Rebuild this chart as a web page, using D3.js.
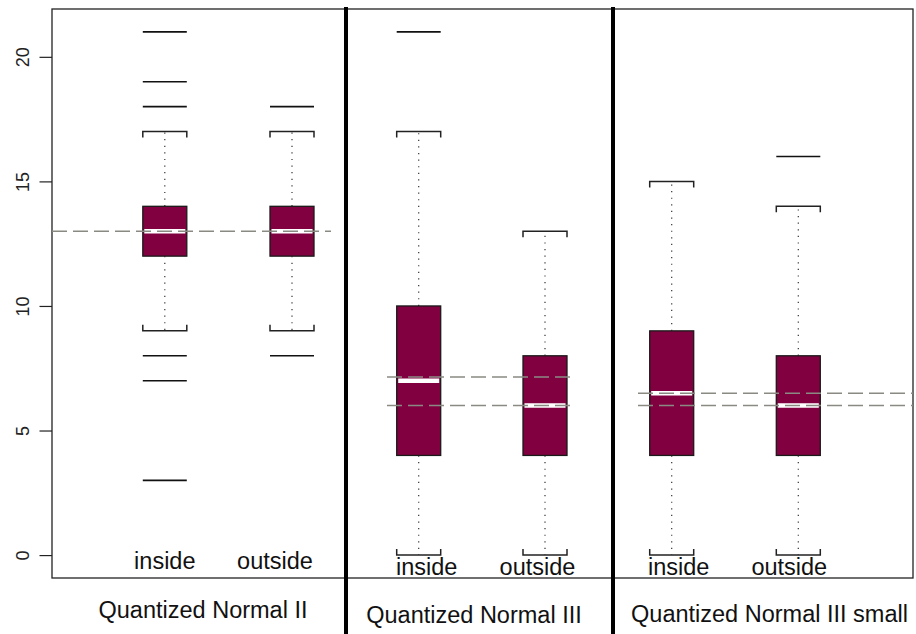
<!DOCTYPE html>
<html>
<head>
<meta charset="utf-8">
<script src="https://cdn.jsdelivr.net/npm/d3@7"></script>
<style>
  body { margin: 0; background: #fff; }
  svg { display: block; font-family: "Liberation Sans", Arial, sans-serif; }
</style>
</head>
<body>
<svg width="916" height="634"></svg>
<script>
// data
var panels = ["Quantized Normal II", "Quantized Normal III", "Quantized Normal III small"];
var groups = ["inside", "outside"];
var medians    = [[13, 13], [7, 6], [6.5, 6]];
var q1         = [[12, 12], [4, 4], [4, 4]];
var q3         = [[14, 14], [10, 8], [9, 8]];
var whiskerLo  = [[9, 9], [0, 0], [0, 0]];
var whiskerHi  = [[17, 17], [17, 13], [15, 14]];
var outliers   = [[[3, 7, 8, 18, 19, 21], [8, 18]], [[21], []], [[], [16]]];
var refLines   = [[13], [7.15, 6], [6.5, 6]];
var yTicks     = [0, 5, 10, 15, 20];

// layout (the reference is three plots stitched side by side)
var frame = {left: 52, right: 913, top: 9, bottom: 578};
var layout = [
  {x0: 52,  x1: 346, boxes: [164.8, 292],   labelDx: [0, -17],  labelY: 568.5, titleX: 203,   titleY: 617.5, ref: [52, 331]},
  {x0: 346, x1: 613, boxes: [418.7, 545],   labelDx: [8, -7.5], labelY: 574.5, titleX: 474,   titleY: 622.5, ref: [387, 576]},
  {x0: 613, x1: 913, boxes: [671.7, 798.3], labelDx: [7, -9],   labelY: 575,   titleX: 769.5, titleY: 621.5, ref: [638, 913]}
];
var halfW = 22, capTick = 6;
var boxFill = "#800040";

var svg = d3.select("svg");

var y = d3.scaleLinear().domain([-0.92, 21.92]).range([frame.bottom, frame.top]);

// frame
svg.append("rect")
    .attr("x", frame.left).attr("y", frame.top)
    .attr("width", frame.right - frame.left).attr("height", frame.bottom - frame.top)
    .attr("fill", "none").attr("stroke", "#222").attr("stroke-width", 1.3);

// y axis
var yAxis = svg.append("g")
    .attr("transform", "translate(" + frame.left + ",0)")
    .call(d3.axisLeft(y).tickValues(yTicks).tickSize(12.5).tickPadding(0));
yAxis.select(".domain").remove();
yAxis.selectAll(".tick line").attr("stroke", "#222").attr("stroke-width", 1.2);
yAxis.selectAll(".tick text")
    .attr("x", null).attr("dy", null)
    .attr("transform", "translate(-23,0) rotate(-90)")
    .attr("text-anchor", "middle")
    .attr("fill", "#222")
    .style("font-size", "18px");

panels.forEach(function(name, p) {
  var L = layout[p];
  var x = d3.scalePoint().domain(groups).range(L.boxes);
  var g = svg.append("g").attr("class", "panel");

  var stats = groups.map(function(grp, i) {
    return {grp: grp, med: medians[p][i], lo: q1[p][i], hi: q3[p][i],
            wlo: whiskerLo[p][i], whi: whiskerHi[p][i], out: outliers[p][i], i: i};
  });

  var b = g.selectAll(".box").data(stats).enter().append("g").attr("class", "box");

  // whiskers (dotted)
  b.append("line")
      .attr("x1", function(d) { return x(d.grp); }).attr("x2", function(d) { return x(d.grp); })
      .attr("y1", function(d) { return y(d.hi); }).attr("y2", function(d) { return y(d.whi); })
      .attr("stroke", "#333").attr("stroke-width", 1.2).attr("stroke-dasharray", "1.2,5.4");
  b.append("line")
      .attr("x1", function(d) { return x(d.grp); }).attr("x2", function(d) { return x(d.grp); })
      .attr("y1", function(d) { return y(d.lo); }).attr("y2", function(d) { return y(d.wlo); })
      .attr("stroke", "#333").attr("stroke-width", 1.2).attr("stroke-dasharray", "1.2,5.4");

  // caps as brackets
  b.append("path")
      .attr("d", function(d) {
        var c = x(d.grp), yy = y(d.whi);
        return "M" + (c - halfW) + "," + (yy + capTick) + "V" + yy + "H" + (c + halfW) + "V" + (yy + capTick);
      })
      .attr("fill", "none").attr("stroke", "#222").attr("stroke-width", 1.5);
  b.append("path")
      .attr("d", function(d) {
        var c = x(d.grp), yy = y(d.wlo);
        return "M" + (c - halfW) + "," + (yy - capTick) + "V" + yy + "H" + (c + halfW) + "V" + (yy - capTick);
      })
      .attr("fill", "none").attr("stroke", "#222").attr("stroke-width", 1.5);

  // box
  b.append("rect")
      .attr("x", function(d) { return x(d.grp) - halfW; })
      .attr("y", function(d) { return y(d.hi); })
      .attr("width", halfW * 2)
      .attr("height", function(d) { return y(d.lo) - y(d.hi); })
      .attr("fill", boxFill).attr("stroke", "#1a1a1a").attr("stroke-width", 1.3);

  // median
  b.append("line")
      .attr("x1", function(d) { return x(d.grp) - halfW + 1.5; })
      .attr("x2", function(d) { return x(d.grp) + halfW - 1.5; })
      .attr("y1", function(d) { return y(d.med); }).attr("y2", function(d) { return y(d.med); })
      .attr("stroke", "#fff").attr("stroke-width", 4.5);

  // outliers drawn as short bars
  b.each(function(d) {
    d3.select(this).selectAll(".out").data(d.out).enter().append("line")
        .attr("class", "out")
        .attr("x1", x(d.grp) - halfW).attr("x2", x(d.grp) + halfW)
        .attr("y1", function(v) { return y(v); }).attr("y2", function(v) { return y(v); })
        .attr("stroke", "#111").attr("stroke-width", 1.6);
  });

  // reference lines (dashed)
  g.selectAll(".ref").data(refLines[p]).enter().append("line")
      .attr("class", "ref")
      .attr("x1", L.ref[0]).attr("x2", L.ref[1])
      .attr("y1", function(v) { return y(v); }).attr("y2", function(v) { return y(v); })
      .attr("stroke", "#8a8a82").attr("stroke-width", 1.5).attr("stroke-dasharray", "15,6");

  // group labels
  g.selectAll(".lab").data(stats).enter().append("text")
      .attr("class", "lab")
      .attr("x", function(d) { return x(d.grp) + L.labelDx[d.i]; })
      .attr("y", L.labelY)
      .attr("text-anchor", "middle")
      .attr("fill", "#111")
      .style("font-size", "23.5px")
      .text(function(d) { return d.grp; });

  // panel title
  g.append("text")
      .attr("x", L.titleX).attr("y", L.titleY)
      .attr("text-anchor", "middle")
      .attr("fill", "#111")
      .style("font-size", "23.5px")
      .text(name);
});

// thick dividers between the stitched plots
svg.selectAll(".divider").data(layout.slice(1)).enter().append("line")
    .attr("class", "divider")
    .attr("x1", function(d) { return d.x0; }).attr("x2", function(d) { return d.x0; })
    .attr("y1", frame.top - 2).attr("y2", 634)
    .attr("stroke", "#000").attr("stroke-width", 4);
</script>
</body>
</html>
